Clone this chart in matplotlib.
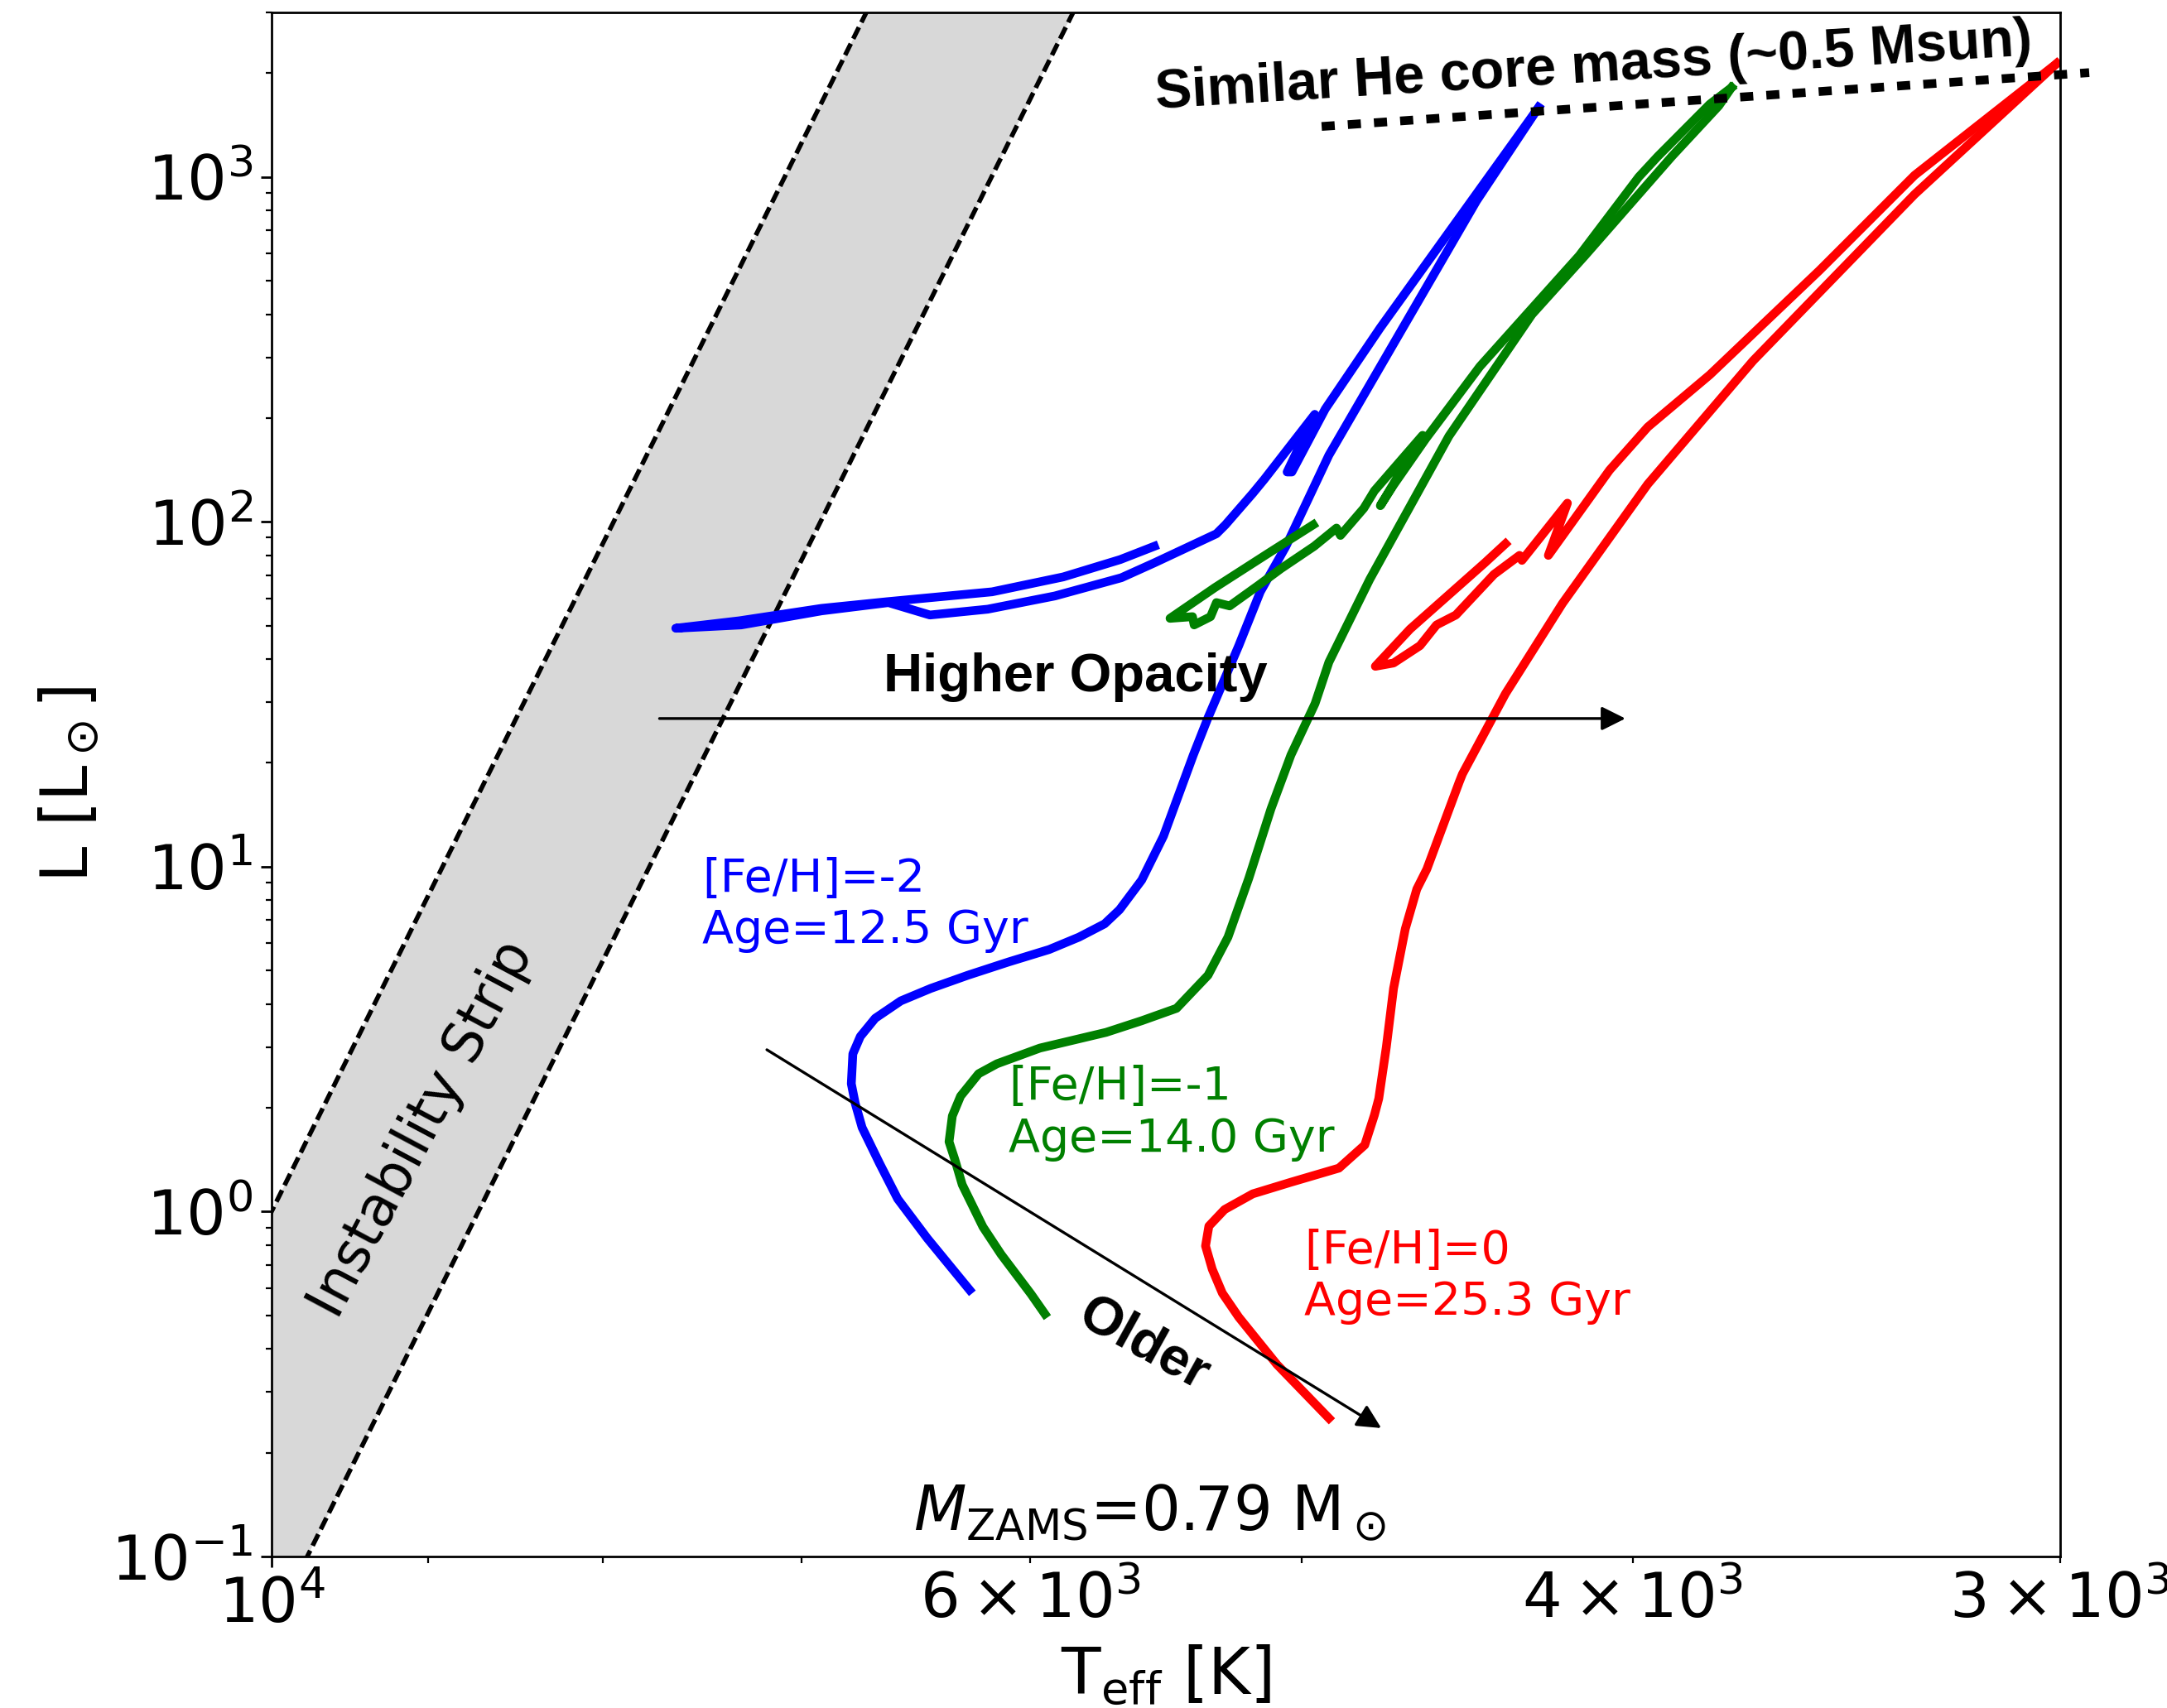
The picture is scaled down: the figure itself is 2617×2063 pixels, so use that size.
import matplotlib
matplotlib.use("Agg")
import matplotlib.pyplot as plt

# ---------------- data (Teff [K], L [Lsun]) ----------------
# [Fe/H]=-2 : main sequence -> RGB tip
blue_rgb_T = [6251, 6431, 6561, 6642, 6720, 6751, 6769, 6762, 6728, 6661, 6547, 6417, 6258,
              6089, 5925, 5807, 5708, 5651, 5567, 5486, 5377, 5324, 5215, 5140, 5052, 4908,
              4444, 4262]
blue_rgb_L = [0.593, 0.836, 1.089, 1.382, 1.753, 2.058, 2.349, 2.867, 3.220, 3.636, 4.084, 4.437,
              4.847, 5.296, 5.754, 6.251, 6.829, 7.503, 9.152, 12.27, 21.09, 27.05, 43.76, 62.68,
              84.95, 156.1, 851.7, 1591]
# [Fe/H]=-2 : horizontal branch -> AGB
blue_hb_T = [5520, 5648, 5869, 6157, 6609, 6906, 7298, 7618, 7290, 6906, 6602, 6420, 6175,
             5902, 5644, 5520, 5294, 5262, 5166, 5126, 4955, 5048, 5032, 4920, 4741, 4262]
blue_hb_L = [84.95, 77.75, 69.24, 62.68, 58.66, 56.12, 51.66, 49.15, 50.25, 55.20, 58.33, 53.69,
             55.82, 60.98, 68.86, 76.05, 92.36, 98.07, 121.0, 132.9, 205.0, 139.5, 139.5, 212.5,
             365.6, 1591]

# [Fe/H]=-1
green_rgb_T = [5942, 5998, 6120, 6195, 6282, 6314, 6338, 6324, 6289, 6213, 6137, 5962, 5702,
               5567, 5438, 5324, 5253, 5180, 5103, 5035, 4954, 4908, 4775, 4527, 4281, 4131,
               4002, 3896, 3775, 3743]
green_rgb_L = [0.505, 0.577, 0.752, 0.903, 1.197, 1.421, 1.595, 1.894, 2.162, 2.511, 2.683,
               2.980, 3.310, 3.577, 3.886, 4.847, 6.251, 9.254, 14.73, 21.09, 29.72, 39.19,
               68.10, 177.3, 399.4, 591.3, 847.0, 1148, 1608, 1816]
green_hb_T = [4960, 5106, 5300, 5462, 5380, 5374, 5315, 5294, 5247, 5146, 5069, 4957, 4883,
              4870, 4794, 4760, 4608, 4741, 4699, 4598, 4434, 4147, 3984, 3933, 3798, 3743]
green_hb_L = [98.07, 81.72, 64.44, 52.51, 53.10, 50.25, 53.10, 58.33, 57.05, 65.52, 73.17,
              84.95, 95.93, 91.34, 109.5, 123.0, 178.2, 111.4, 127.9, 174.3, 282.0, 591.3,
              1000, 1148, 1626, 1816]

# [Fe/H]=0
red_rgb_T = [4908, 5083, 5215, 5273, 5309, 5333, 5321, 5265, 5166, 5035, 4875, 4791, 4760,
             4746, 4722, 4699, 4662, 4626, 4595, 4496, 4486, 4358, 4194, 3960, 3689, 3309, 3007]
red_rgb_L = [0.2518, 0.3606, 0.4942, 0.5803, 0.6810, 0.7951, 0.9078, 1.014, 1.126, 1.217,
             1.337, 1.560, 1.905, 2.127, 2.997, 4.437, 6.607, 8.614, 9.835, 17.58, 18.58,
             31.75, 58.01, 128.6, 293.1, 890.2, 2133]
red_hb_T = [4358, 4419, 4647, 4757, 4699, 4616, 4565, 4506, 4392, 4317, 4310, 4180, 4234,
            4063, 3960, 3798, 3528, 3309, 3007]
red_hb_L = [86.37, 76.05, 48.88, 38.12, 38.97, 43.76, 50.25, 53.69, 70.40, 79.94, 77.32,
            113.3, 79.94, 141.3, 188.3, 266.9, 535.5, 1011, 2133]

# instability strip edges
is_blue_T = [11617, 6532]
is_blue_L = [0.05, 5000]
is_red_T = [10107, 5683]
is_red_L = [0.05, 5000]

# similar He core mass line
he_T = [4932, 2942]
he_L = [1401, 2007]

# arrows (start, tip)
opac_T = [7702, 4020]
opac_L = [26.9, 26.9]
older_T = [7165, 4738]
older_L = [2.947, 0.2357]

track_labels = ["[Fe/H]=-2\nAge=12.5 Gyr", "[Fe/H]=-1\nAge=14.0 Gyr", "[Fe/H]=0\nAge=25.3 Gyr"]
track_colors = ["blue", "green", "red"]
label_T = [7484, 6089, 4990]
label_L = [6.013, 1.4956, 0.5024]   # baseline of the last line
# ----------------------------------------------------------

fig = plt.figure(figsize=(13.085, 10.315), dpi=200)
ax = fig.add_axes([0.12533, 0.08870, 0.82538, 0.90403])
ax.set_xscale("log")
ax.set_yscale("log")

# instability strip
poly_T = is_blue_T + is_red_T[::-1]
poly_L = is_blue_L + is_red_L[::-1]
ax.fill(poly_T, poly_L, color="gray", alpha=0.3, lw=0, zorder=0)
dash = (0, (2.775, 1.2))
ax.plot(is_blue_T, is_blue_L, color="k", linestyle=dash, lw=2.0, zorder=1)
ax.plot(is_red_T, is_red_L, color="k", linestyle=dash, lw=2.0, zorder=1)

tracks = [(blue_rgb_T, blue_rgb_L, blue_hb_T, blue_hb_L),
          (green_rgb_T, green_rgb_L, green_hb_T, green_hb_L),
          (red_rgb_T, red_rgb_L, red_hb_T, red_hb_L)]
for (t1, l1, t2, l2), c in zip(tracks, track_colors):
    ax.plot(t1, l1, color=c, lw=3.8, zorder=2)
    ax.plot(t2, l2, color=c, lw=3.8, zorder=2)

ax.plot(he_T, he_L, color="k", lw=3.8, linestyle=(0, (1.5, 1.5)), clip_on=False, zorder=3)

arrowprops = dict(arrowstyle="-|>", color="k", lw=1.2, shrinkA=0, shrinkB=0,
                  mutation_scale=22)
ax.annotate("", xy=(opac_T[1], opac_L[1]), xytext=(opac_T[0], opac_L[0]),
            arrowprops=arrowprops)
ax.annotate("", xy=(older_T[1], older_L[1]), xytext=(older_T[0], older_L[0]),
            arrowprops=arrowprops)

bold = dict(family=["Liberation Sans", "DejaVu Sans"], weight="bold")
ax.text(5822, 32.28, "Higher Opacity", ha="center", va="baseline", fontsize=23.5, **bold)
ax.text(5560, 0.4117, "Older", ha="center", va="center", rotation=-29,
        rotation_mode="anchor", fontsize=23.5, **bold)
ax.text(4104, 1888, "Similar He core mass (~0.5 Msun)", ha="center", va="baseline",
        rotation=3.5, rotation_mode="anchor", fontsize=24, **bold)

ax.text(9041, 1.733, "Instability Strip", ha="center", va="center", rotation=62,
        rotation_mode="anchor", fontsize=24)

for txt, c, t, l in zip(track_labels, track_colors, label_T, label_L):
    ax.text(t, l, txt, color=c, fontsize=20, ha="left", va="baseline")

ax.text(6492, 0.1193, r"$M_{\rm ZAMS}$=0.79 M$_\odot$", fontsize=26.5, ha="left",
        va="baseline")

ax.set_xlim(10000, 3000)
ax.set_ylim(0.1, 3000)

ax.tick_params(which="major", labelsize=27, length=4.8, width=1.0)
ax.tick_params(which="minor", labelsize=27, length=2.7, width=0.8)
for s in ax.spines.values():
    s.set_linewidth(1.0)

ax.set_xlabel(r"T$_{\rm eff}$ [K]", fontsize=28)
ax.set_ylabel(r"L [L$_\odot$]", fontsize=28)
ax.xaxis.set_label_coords(0.5, -0.056)
ax.yaxis.set_label_coords(-0.095, 0.5)

fig.savefig("out.png", dpi=200)
